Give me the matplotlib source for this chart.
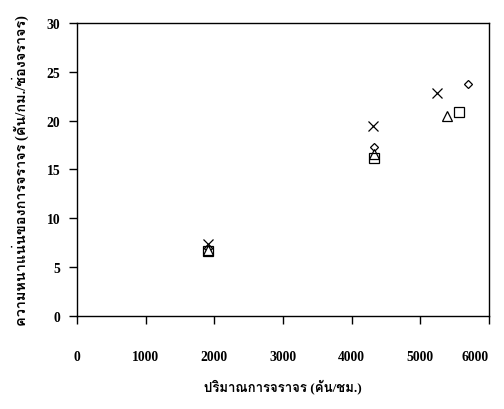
import matplotlib
matplotlib.use('Agg')
import matplotlib.pyplot as plt
from matplotlib import font_manager
from matplotlib.ft2font import FT2Font

# traffic flow (veh/h) vs density (veh/km/lane), four observation groups
flow_x = [1910, 4310, 5240]
dens_x = [7.4, 19.4, 22.8]
flow_diamond = [1910, 4320, 5690]
dens_diamond = [7.0, 17.3, 23.8]
flow_triangle = [1910, 4320, 5390]
dens_triangle = [6.8, 16.6, 20.5]
flow_square = [1910, 4320, 5560]
dens_square = [6.6, 16.2, 20.9]

x_ticks = [0, 1000, 2000, 3000, 4000, 5000, 6000]
y_ticks = [0, 5, 10, 15, 20, 25, 30]
x_label = 'ปริมาณการจราจร (คัน/ชม.)'
y_label = 'ความหนาแน่นของการจราจร (คัน/กม./ช่องจราจร)'


def find_thai_font():
    for f in font_manager.fontManager.ttflist:
        try:
            if ord('ก') in FT2Font(f.fname).get_charmap():
                return f.name
        except Exception:
            continue
    return 'DejaVu Sans'


thai = find_thai_font()
families = ['Liberation Serif', thai, 'DejaVu Sans']

fig = plt.figure(figsize=(5.04, 4.10), dpi=100)
ax = fig.add_axes([0.153, 0.227, 0.817, 0.7145])

ax.plot(flow_x, dens_x, linestyle='none', marker='x', ms=7, mec='black', mew=0.9)
ax.plot(flow_diamond, dens_diamond, linestyle='none', marker='D', ms=4.5, mfc='white', mec='black', mew=0.9)
ax.plot(flow_triangle, dens_triangle, linestyle='none', marker='^', ms=7, mfc='white', mec='black', mew=0.9)
ax.plot(flow_square, dens_square, linestyle='none', marker='s', ms=6.5, mfc='none', mec='black', mew=0.9)

ax.set_xlim(0, 6000)
ax.set_ylim(0, 30)
ax.set_xticks(x_ticks)
ax.set_yticks(y_ticks)
ax.tick_params(axis='x', direction='out', length=5.5, width=1, pad=19)
ax.tick_params(axis='y', direction='out', length=5.5, width=1, pad=6.5)
for lbl in ax.get_xticklabels() + ax.get_yticklabels():
    lbl.set_family(families)
    lbl.set_fontweight('bold')
    lbl.set_fontsize(9.8)
# keep the last x label inside the figure edge
ax.get_xticklabels()[-1].set_horizontalalignment('right')
for s in ax.spines.values():
    s.set_linewidth(1)

ax.set_xlabel(x_label, family=families, fontweight='bold', fontsize=9.5, labelpad=11)
ax.set_ylabel(y_label, family=families, fontweight='bold', fontsize=10.4, labelpad=13)

fig.savefig('out.png', dpi=100)
